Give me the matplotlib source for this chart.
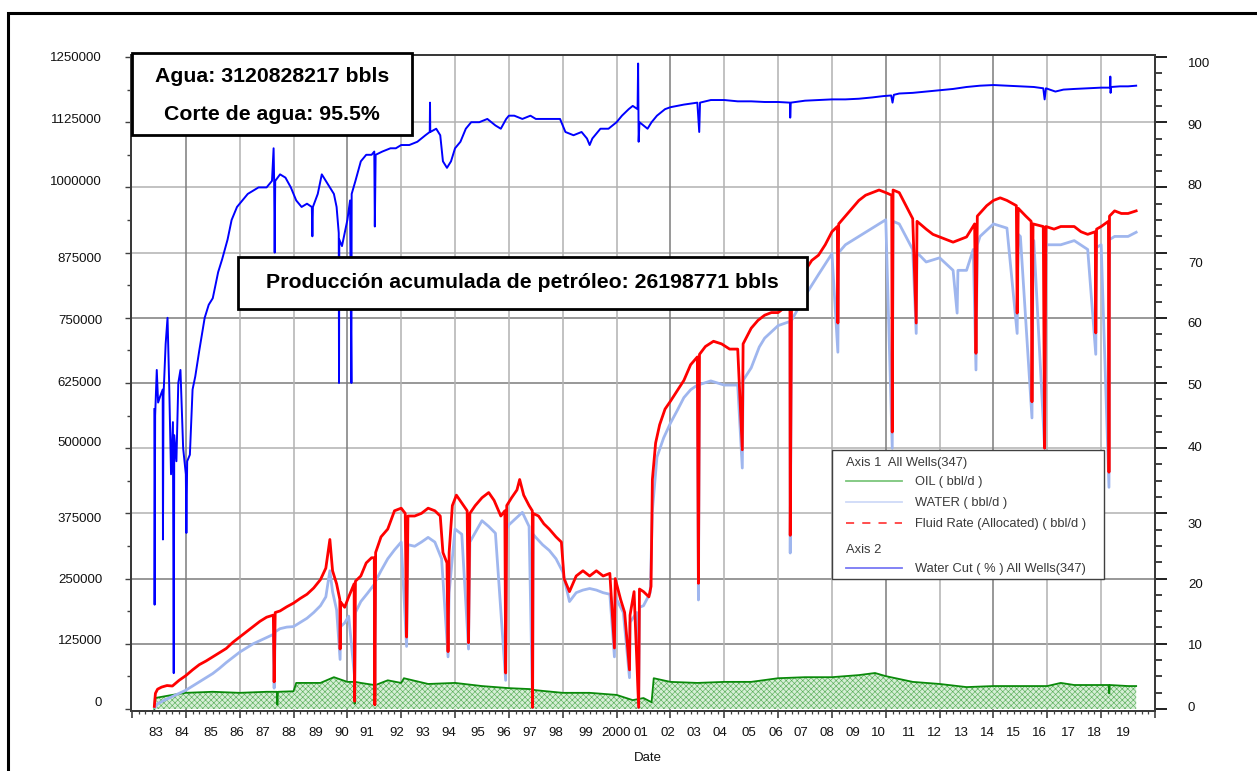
import matplotlib
matplotlib.use('Agg')
import matplotlib.pyplot as plt
import matplotlib.transforms as mtransforms
from matplotlib.lines import Line2D
from matplotlib.patches import Rectangle

plt.rcParams['font.family'] = ['Liberation Sans', 'DejaVu Sans']
plt.rcParams['hatch.linewidth'] = 0.45

# ---------------- data ----------------
# Water cut (%), right axis
wc_years = [1982.83, 1982.84, 1982.86, 1982.92, 1982.97, 1983.05, 1983.14, 1983.15, 1983.17, 1983.25,
            1983.32, 1983.38, 1983.45, 1983.52, 1983.55, 1983.57, 1983.65, 1983.72, 1983.80, 1983.90,
            1984.00, 1984.02, 1984.05, 1984.15, 1984.25, 1984.35, 1984.50, 1984.70, 1984.85, 1985.00,
            1985.20, 1985.35, 1985.55, 1985.70, 1985.90, 1986.10, 1986.30, 1986.50, 1986.70, 1987.00,
            1987.20, 1987.26, 1987.28, 1987.30, 1987.32, 1987.50, 1987.70, 1987.90, 1988.10, 1988.30,
            1988.50, 1988.68, 1988.70, 1988.72, 1988.90, 1989.05, 1989.20, 1989.35, 1989.50, 1989.60,
            1989.68, 1989.69, 1989.70, 1989.80, 1989.90, 1990.00, 1990.10, 1990.15, 1990.16, 1990.30,
            1990.50, 1990.70, 1990.90, 1991.00, 1991.02, 1991.05, 1991.30, 1991.60, 1991.80, 1992.00,
            1992.30, 1992.60, 1992.90, 1993.06, 1993.07, 1993.08, 1993.30, 1993.45, 1993.55, 1993.70,
            1993.85, 1994.00, 1994.20, 1994.40, 1994.60, 1994.90, 1995.20, 1995.50, 1995.70, 1995.90,
            1996.00, 1996.20, 1996.50, 1996.80, 1997.00, 1997.30, 1997.60, 1997.90, 1998.10, 1998.40,
            1998.70, 1998.90, 1999.00, 1999.10, 1999.40, 1999.70, 2000.00, 2000.20, 2000.45, 2000.60,
            2000.78, 2000.80, 2000.82, 2000.85, 2001.00, 2001.15, 2001.30, 2001.50, 2001.80, 2002.00,
            2002.50, 2003.00, 2003.07, 2003.10, 2003.50, 2004.00, 2004.50, 2005.00, 2005.50, 2006.00,
            2006.44, 2006.45, 2006.47, 2007.00, 2007.50, 2008.00, 2008.50, 2009.00, 2009.50, 2009.90,
            2010.20, 2010.25, 2010.30, 2010.50, 2011.00, 2011.50, 2012.00, 2012.50, 2013.00, 2013.50,
            2014.00, 2014.50, 2015.00, 2015.50, 2015.85, 2015.90, 2015.95, 2016.30, 2016.60, 2017.00,
            2017.50, 2018.00, 2018.33, 2018.34, 2018.35, 2018.37, 2018.70, 2019.00, 2019.30]
wc_vals = [46, 16, 45, 52, 47, 48, 49, 26, 48, 56,
           60, 50, 36, 44, 5.5, 42, 38, 50, 52, 40,
           36, 27, 38, 39, 49, 51, 55, 60, 62, 63,
           67, 69, 72, 75, 77, 78, 79, 79.5, 80, 80,
           81, 86, 81, 70, 81, 82, 81.5, 80, 78, 77,
           77.5, 77, 72.5, 77, 79, 82, 81, 80, 79, 77,
           73, 50, 72, 71, 73, 75, 78, 50, 79, 81,
           84, 85, 85, 85.5, 74, 85, 85.5, 86, 86, 86.5,
           86.5, 87, 88, 88.5, 93, 88.5, 89, 88, 84, 83,
           84, 86, 87, 89, 90, 90, 90.5, 89.5, 89, 90.5,
           91, 91, 90.5, 91, 90.5, 90.5, 90.5, 90.5, 88.5, 88,
           88.5, 87.5, 86.5, 87.5, 89, 89, 90, 91, 92, 92.5,
           92, 99, 87, 90, 89.5, 89, 90, 91, 92, 92.3,
           92.7, 93, 88.5, 93, 93.4, 93.4, 93.2, 93.2, 93.1, 93.1,
           93, 90.7, 93, 93.3, 93.4, 93.5, 93.5, 93.6, 93.8, 94,
           94.1, 93, 94.2, 94.4, 94.5, 94.7, 94.9, 95.1, 95.4, 95.6,
           95.7, 95.6, 95.5, 95.4, 95.2, 93.5, 95.2, 94.7, 95, 95.1,
           95.2, 95.3, 95.3, 97, 94.5, 95.4, 95.5, 95.5, 95.6]

# Fluid rate (allocated), bbl/d, left axis
fluid_years = [1982.83, 1982.87, 1982.95, 1983.10, 1983.30, 1983.50, 1983.75, 1984.00, 1984.25, 1984.50,
               1984.75, 1985.00, 1985.25, 1985.50, 1985.75, 1986.00, 1986.25, 1986.50, 1986.75, 1987.00,
               1987.25, 1987.28, 1987.32, 1987.50, 1987.75, 1988.00, 1988.25, 1988.50, 1988.75, 1989.00,
               1989.20, 1989.35, 1989.45, 1989.60, 1989.72, 1989.73, 1989.75, 1989.90, 1990.05, 1990.25,
               1990.27, 1990.30, 1990.50, 1990.70, 1990.90, 1991.00, 1991.02, 1991.05, 1991.25, 1991.50,
               1991.75, 1992.00, 1992.15, 1992.20, 1992.25, 1992.50, 1992.75, 1993.00, 1993.25, 1993.45,
               1993.55, 1993.70, 1993.74, 1993.78, 1993.90, 1994.05, 1994.25, 1994.45, 1994.50, 1994.55,
               1994.75, 1995.00, 1995.25, 1995.45, 1995.70, 1995.85, 1995.88, 1995.92, 1996.10, 1996.30,
               1996.40, 1996.55, 1996.75, 1996.87, 1996.88, 1996.90, 1997.10, 1997.30, 1997.50, 1997.75,
               1997.95, 1998.05, 1998.25, 1998.50, 1998.75, 1999.00, 1999.25, 1999.50, 1999.75, 1999.92,
               1999.95, 2000.15, 2000.30, 2000.48, 2000.50, 2000.65, 2000.82, 2000.85, 2001.00, 2001.20,
               2001.28, 2001.33, 2001.45, 2001.60, 2001.80, 2002.00, 2002.25, 2002.50, 2002.75, 2003.00,
               2003.04, 2003.08, 2003.30, 2003.60, 2003.90, 2004.20, 2004.50, 2004.67, 2004.70, 2005.00,
               2005.25, 2005.50, 2005.75, 2006.00, 2006.25, 2006.44, 2006.45, 2006.50, 2006.75, 2007.00,
               2007.25, 2007.50, 2007.75, 2008.00, 2008.20, 2008.22, 2008.25, 2008.50, 2008.75, 2009.00,
               2009.25, 2009.50, 2009.75, 2010.00, 2010.22, 2010.24, 2010.27, 2010.50, 2010.75, 2011.00,
               2011.13, 2011.16, 2011.50, 2011.75, 2012.00, 2012.25, 2012.50, 2012.75, 2013.00, 2013.30,
               2013.35, 2013.40, 2013.75, 2014.00, 2014.25, 2014.50, 2014.85, 2014.88, 2014.92, 2015.20,
               2015.40, 2015.43, 2015.47, 2015.85, 2015.90, 2015.95, 2016.25, 2016.50, 2016.75, 2017.00,
               2017.25, 2017.50, 2017.78, 2017.80, 2017.83, 2018.00, 2018.27, 2018.29, 2018.31, 2018.50,
               2018.75, 2019.00, 2019.30]
fluid_vals = [5000, 30000, 38000, 42000, 45000, 44000, 55000, 64000, 75000, 85000,
              92000, 100000, 108000, 116000, 128000, 138000, 148000, 158000, 168000, 176000,
              180000, 52000, 185000, 188000, 196000, 203000, 212000, 220000, 232000, 248000,
              270000, 325000, 265000, 240000, 210000, 115000, 205000, 195000, 215000, 240000,
              15000, 245000, 255000, 280000, 290000, 290000, 8000, 300000, 330000, 345000,
              380000, 385000, 375000, 138000, 370000, 370000, 375000, 385000, 380000, 370000,
              300000, 280000, 110000, 300000, 390000, 410000, 395000, 380000, 127000, 375000,
              390000, 405000, 415000, 400000, 370000, 380000, 69000, 390000, 405000, 420000,
              440000, 410000, 390000, 380000, 3000, 375000, 370000, 355000, 345000, 330000,
              320000, 250000, 225000, 255000, 265000, 255000, 265000, 255000, 260000, 117000,
              250000, 210000, 185000, 75000, 180000, 225000, 3000, 230000, 225000, 215000,
              235000, 440000, 510000, 545000, 575000, 590000, 610000, 630000, 660000, 675000,
              241000, 680000, 695000, 705000, 700000, 690000, 690000, 497000, 700000, 730000,
              745000, 755000, 760000, 760000, 770000, 780000, 333000, 790000, 815000, 840000,
              860000, 870000, 890000, 915000, 925000, 740000, 930000, 945000, 960000, 975000,
              985000, 990000, 995000, 990000, 985000, 531000, 995000, 990000, 965000, 940000,
              740000, 935000, 920000, 910000, 905000, 900000, 895000, 900000, 905000, 930000,
              682000, 945000, 965000, 975000, 980000, 975000, 965000, 759000, 960000, 945000,
              935000, 589000, 930000, 925000, 500000, 925000, 920000, 925000, 925000, 925000,
              915000, 910000, 915000, 721000, 920000, 925000, 935000, 454000, 945000, 955000,
              950000, 950000, 955000]

# Water rate, bbl/d, left axis
water_years = [1982.85, 1982.95, 1983.25, 1983.50, 1983.75, 1984.00, 1984.25, 1984.50, 1984.75, 1985.00,
               1985.25, 1985.50, 1985.75, 1986.00, 1986.25, 1986.50, 1986.75, 1987.00, 1987.25, 1987.28,
               1987.32, 1987.50, 1987.75, 1988.00, 1988.25, 1988.50, 1988.75, 1989.00, 1989.20, 1989.35,
               1989.45, 1989.60, 1989.73, 1989.75, 1989.90, 1990.05, 1990.27, 1990.30, 1990.50, 1990.75,
               1991.00, 1991.02, 1991.05, 1991.25, 1991.50, 1991.75, 1992.00, 1992.20, 1992.25, 1992.50,
               1992.75, 1993.00, 1993.25, 1993.50, 1993.74, 1993.78, 1994.00, 1994.25, 1994.50, 1994.55,
               1995.00, 1995.25, 1995.50, 1995.88, 1995.92, 1996.00, 1996.25, 1996.50, 1996.75, 1996.88,
               1996.90, 1997.00, 1997.25, 1997.50, 1997.75, 1998.00, 1998.25, 1998.50, 1998.75, 1999.00,
               1999.25, 1999.50, 1999.75, 1999.92, 1999.95, 2000.25, 2000.48, 2000.50, 2000.75, 2000.82,
               2000.85, 2001.00, 2001.25, 2001.33, 2001.50, 2001.75, 2002.00, 2002.25, 2002.50, 2002.75,
               2003.00, 2003.04, 2003.08, 2003.50, 2004.00, 2004.50, 2004.67, 2004.70, 2005.00, 2005.30,
               2005.50, 2006.00, 2006.44, 2006.45, 2006.50, 2007.00, 2007.50, 2008.00, 2008.22, 2008.25,
               2008.50, 2009.00, 2009.50, 2010.00, 2010.24, 2010.27, 2010.50, 2011.00, 2011.13, 2011.16,
               2011.50, 2012.00, 2012.50, 2012.65, 2012.68, 2013.00, 2013.25, 2013.35, 2013.40, 2013.50,
               2014.00, 2014.50, 2014.88, 2014.92, 2015.00, 2015.43, 2015.47, 2015.50, 2015.90, 2015.95,
               2016.00, 2016.50, 2017.00, 2017.50, 2017.80, 2017.83, 2018.00, 2018.29, 2018.31, 2018.50,
               2019.00, 2019.30]
water_vals = [3000, 10000, 18000, 24000, 30000, 36000, 44000, 52000, 60000, 68000,
              78000, 89000, 99000, 109000, 117000, 125000, 131000, 137000, 143000, 40000,
              148000, 154000, 157000, 158000, 166000, 174000, 185000, 198000, 215000, 265000,
              225000, 190000, 95000, 158000, 165000, 178000, 60000, 185000, 206000, 222000,
              239000, 30000, 245000, 265000, 288000, 305000, 320000, 120000, 315000, 312000,
              320000, 329000, 320000, 288000, 100000, 223000, 345000, 335000, 115000, 320000,
              361000, 350000, 337000, 55000, 345000, 353000, 365000, 377000, 350000, 3000,
              335000, 329000, 315000, 304000, 288000, 263000, 206000, 223000, 228000, 231000,
              228000, 223000, 220000, 100000, 215000, 185000, 60000, 166000, 185000, 3000,
              195000, 198000, 223000, 380000, 483000, 520000, 548000, 572000, 597000, 612000,
              621000, 209000, 622000, 629000, 621000, 621000, 462000, 630000, 654000, 694000,
              711000, 735000, 743000, 299000, 745000, 792000, 833000, 873000, 684000, 875000,
              890000, 906000, 922000, 938000, 500000, 935000, 930000, 881000, 720000, 875000,
              857000, 865000, 841000, 759000, 841000, 841000, 881000, 650000, 890000, 906000,
              930000, 922000, 720000, 910000, 906000, 558000, 898000, 898000, 500000, 890000,
              890000, 890000, 898000, 881000, 680000, 885000, 890000, 425000, 900000, 906000,
              906000, 914000]

# Oil rate, bbl/d, left axis
oil_years = [1982.83, 1982.85, 1983.50, 1984.00, 1985.00, 1986.00, 1987.00, 1987.38, 1987.40, 1987.42,
             1988.00, 1988.10, 1989.00, 1989.50, 1990.00, 1990.25, 1990.27, 1990.29, 1990.50, 1991.00,
             1991.02, 1991.05, 1991.50, 1992.00, 1992.10, 1993.00, 1994.00, 1995.00, 1996.00, 1996.86,
             1996.88, 1996.90, 1997.00, 1998.00, 1999.00, 2000.00, 2000.60, 2001.00, 2001.30, 2001.38,
             2002.00, 2003.00, 2004.00, 2005.00, 2006.00, 2007.00, 2008.00, 2009.00, 2009.60, 2010.00,
             2011.00, 2012.00, 2013.00, 2014.00, 2015.00, 2016.00, 2016.50, 2017.00, 2018.00, 2018.28,
             2018.30, 2018.32, 2019.00, 2019.30]
oil_vals = [0, 21000, 27000, 31000, 33000, 31000, 33000, 33000, 8000, 33000,
            34000, 50000, 50000, 61000, 52000, 52000, 10000, 52000, 50000, 46000,
            8000, 46000, 55000, 50000, 59000, 48000, 50000, 44000, 40000, 38000,
            13000, 37000, 36000, 31000, 31000, 27000, 17000, 21000, 13000, 59000,
            52000, 50000, 52000, 52000, 59000, 61000, 61000, 65000, 69000, 63000,
            52000, 48000, 42000, 44000, 44000, 44000, 50000, 46000, 46000, 46000,
            30000, 46000, 44000, 44000]

left_ticks = [0, 125000, 250000, 375000, 500000, 625000, 750000, 875000, 1000000, 1125000, 1250000]
right_ticks = [0, 10, 20, 30, 40, 50, 60, 70, 80, 90, 100]
year_ticks = list(range(1983, 2020))
year_labels = ['83', '84', '85', '86', '87', '88', '89', '90', '91', '92', '93', '94', '95', '96', '97',
               '98', '99', '2000', '01', '02', '03', '04', '05', '06', '07', '08', '09', '10', '11', '12',
               '13', '14', '15', '16', '17', '18', '19']

# ---------------- figure ----------------
W, H = 1257, 771
fig = plt.figure(figsize=(W / 100, H / 100), dpi=100)


def fx(px):
    return px / W


def fy(py):
    return 1 - py / H


def px_off(dx, dy):
    # offset in pixels (dy positive = downwards)
    return mtransforms.ScaledTranslation(dx / 100, -dy / 100, fig.dpi_scale_trans)


ax = fig.add_axes([fx(131), fy(711), fx(1155) - fx(131), fy(55) - fy(711)])
ax.set_xlim(1981.963, 2020.0)
ax.set_ylim(-3834, 1253834)

# grid
dark_h = {125000, 250000, 625000, 750000}
for v in left_ticks[1:-1]:
    ax.axhline(v, color='#7c7c7c' if v in dark_h else '#b2b2b2', lw=1.1, zorder=0.5)
dark_v = {1984, 1990, 2002, 2010, 2014}
for yv in range(1984, 2020, 2):
    ax.axvline(yv, color='#7c7c7c' if yv in dark_v else '#b2b2b2', lw=1.1, zorder=0.5)

# oil fill
ax.fill_between(oil_years, 0, oil_vals, facecolor='#d6eed6', edgecolor='#5cb05c',
                hatch='xxxxxx', linewidth=0, zorder=1)
ax.plot(oil_years, oil_vals, color='#0a8a0a', lw=1.3, zorder=2)
ax.plot(water_years, water_vals, color='#9fb6ee', lw=2.0, zorder=3)
ax.plot(fluid_years, fluid_vals, color='#ff0000', lw=2.0, zorder=4)

# left axis ticks
ax.set_yticks(left_ticks)
ax.set_yticklabels([str(v) for v in left_ticks])
ax.set_yticks([v + 62500 for v in left_ticks[:-1]], minor=True)
ax.tick_params(axis='y', which='major', direction='out', length=6 * 0.72, width=1.0,
               color='#404040', labelsize=9.5, labelcolor='#111111', pad=16.5)
ax.tick_params(axis='y', which='minor', direction='out', length=4 * 0.72, width=1.0, color='#404040')
left_off = [-8, -4, 0, 4, -7, -2, 2, 5, -7, -4, 0]
for lab, d in zip(ax.get_yticklabels(), left_off):
    lab.set_transform(lab.get_transform() + px_off(0, d))

# x axis ticks
ax.set_xticks(list(range(1982, 2021, 2)))
ax.set_xticklabels([])
ax.set_xticks([y + q for y in range(1982, 2020) for q in (0.25, 0.5, 0.75)] +
              list(range(1983, 2020, 2)), minor=True)
ax.tick_params(axis='x', which='major', direction='out', length=7 * 0.72, width=1.2, color='#404040')
ax.tick_params(axis='x', which='minor', direction='out', length=3 * 0.72, width=0.9, color='#404040')

x_off = [-3, -4, -2, -3, -4, -4.5, -5, -6, -7, -4, -5, -6, -4, -5, -6, -7, -4, -1, -2.5, -2.5,
         -3, -4, -2, -2, -4, -5, -6, -7, -4, -5, -5.5, -6, -7, -8, -6, -7, -5]
xt = mtransforms.blended_transform_factory(ax.transData, ax.transAxes)
for yr, lab, d in zip(year_ticks, year_labels, x_off):
    ax.text(yr, 0, lab, transform=xt + px_off(d, 22), ha='center', va='center',
            fontsize=9.5, color='#111111')
fig.text(fx(648), fy(758), 'Date', ha='center', va='center', fontsize=9.5, color='#111111')

for sp in ax.spines.values():
    sp.set_color('#3a3a3a')
    sp.set_linewidth(1.4)

# right axis
ax2 = ax.twinx()
ax2.set_ylim(-0.307, 100.307)
ax2.plot(wc_years, wc_vals, color='#0000ff', lw=1.4, zorder=5)
ax2.set_yticks(right_ticks)
ax2.set_yticklabels([str(v) for v in right_ticks])
ax2.set_yticks([v + k for v in right_ticks[:-1] for k in (2.5, 5, 7.5)], minor=True)
ax2.tick_params(axis='y', which='major', direction='out', length=12 * 0.72, width=1.4,
                color='#202020', labelsize=9.5, labelcolor='#111111', pad=15)
ax2.tick_params(axis='y', which='minor', direction='out', length=7 * 0.72, width=1.2, color='#202020')
right_off = [-2, 1, 5, 10, -2, 1, 5, 10, -3, 2, 5]
for lab, d in zip(ax2.get_yticklabels(), right_off):
    lab.set_transform(lab.get_transform() + px_off(0, d))
for sp in ax2.spines.values():
    sp.set_color('#3a3a3a')
    sp.set_linewidth(1.4)

# ---------------- annotation boxes ----------------
def fig_box(x0, y0, x1, y1, lw=2.0, ec='black'):
    r = Rectangle((fx(x0), fy(y1)), fx(x1) - fx(x0), fy(y0) - fy(y1), transform=fig.transFigure,
                  facecolor='white', edgecolor=ec, linewidth=lw, zorder=10)
    fig.add_artist(r)


fig_box(132, 53, 412, 135)
fig.text(fx(272), fy(77), 'Agua: 3120828217 bbls', ha='center', va='center',
         fontsize=15.3, fontweight='bold', zorder=11)
fig.text(fx(272), fy(114), 'Corte de agua: 95.5%', ha='center', va='center',
         fontsize=15.3, fontweight='bold', zorder=11)

fig_box(238, 257, 807, 309)
fig.text(fx(522.5), fy(282), 'Producción acumulada de petróleo: 26198771 bbls', ha='center',
         va='center', fontsize=15.3, fontweight='bold', zorder=11)

# legend
fig_box(832, 450, 1104, 579, lw=1.0, ec='#404040')
leg_c = '#3a3a3a'
fig.text(fx(846), fy(463), 'Axis 1  All Wells(347)', ha='left', va='center', fontsize=9.3,
         color=leg_c, zorder=11)
fig.text(fx(846), fy(550), 'Axis 2', ha='left', va='center', fontsize=9.3, color=leg_c, zorder=11)
entries = [(481, 'OIL ( bbl/d )', '#7cc67c', '-'),
           (502, 'WATER ( bbl/d )', '#cfdaf8', '-'),
           (523, 'Fluid Rate (Allocated) ( bbl/d )', '#ff4040', (0, (4.5, 4.5))),
           (568, 'Water Cut ( % ) All Wells(347)', '#7878f4', '-')]
for yy, txt, col, ls in entries:
    fig.add_artist(Line2D([fx(846), fx(902)], [fy(yy), fy(yy)], transform=fig.transFigure,
                          color=col, lw=1.3, linestyle=ls, zorder=11))
    fig.text(fx(915), fy(yy + 1), txt, ha='left', va='center', fontsize=9.3, color=leg_c, zorder=11)

# outer frame
fig.add_artist(Rectangle((fx(8), -0.1), 1.2, fy(13) + 0.1, transform=fig.transFigure,
                         facecolor='none', edgecolor='black', linewidth=2.2, zorder=12))

fig.savefig('out.png', dpi=100)
